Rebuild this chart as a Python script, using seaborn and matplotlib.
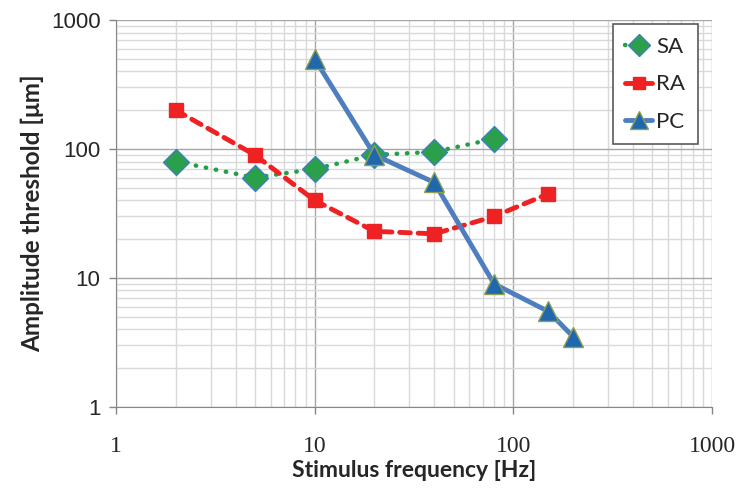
import pandas as pd
import numpy as np
import seaborn as sns
import matplotlib.pyplot as plt
from matplotlib.ticker import LogLocator, NullFormatter, FixedLocator

# Data
sa_freq = [2, 5, 10, 20, 40, 80]
sa_amp = [80, 60, 70, 90, 95, 120]
ra_freq = [2, 5, 10, 20, 40, 80, 150]
ra_amp = [200, 90, 40, 23, 22, 30, 45]
pc_freq = [10, 20, 40, 80, 150, 200]
pc_amp = [500, 90, 55, 9, 5.5, 3.5]

df = pd.concat([
    pd.DataFrame({'freq': sa_freq, 'amp': sa_amp, 'type': 'SA'}),
    pd.DataFrame({'freq': ra_freq, 'amp': ra_amp, 'type': 'RA'}),
    pd.DataFrame({'freq': pc_freq, 'amp': pc_amp, 'type': 'PC'}),
])

sns.set_style('white')
plt.rcParams['font.family'] = ['Lato', 'DejaVu Sans']

fig = plt.figure(figsize=(7.38, 4.88), dpi=100)
ax = fig.add_axes([0.157, 0.166, 0.808, 0.793])

styles = {
    'SA': dict(color='#22A045', ls=(0, (0.1, 2.2)), lw=3.2, marker='D', ms=13,
               mfc='#2AA04A', mec='#3F7FBF', mew=1.0),
    'RA': dict(color='#EE2222', ls=(0, (2.2, 1.6)), lw=3.5, marker='s', ms=10,
               mfc='#EE2222', mec='#EE2222', mew=1.0),
    'PC': dict(color='#4F7EBE', ls='-', lw=3.5, marker='^', ms=15,
               mfc='#1F68B0', mec='#8CA050', mew=1.0),
}

for name in ['SA', 'RA', 'PC']:
    st = styles[name]
    sub = df[df['type'] == name]
    sns.lineplot(data=sub, x='freq', y='amp', ax=ax, label=name,
                 color=st['color'], linestyle=st['ls'], linewidth=st['lw'],
                 marker=st['marker'], markersize=st['ms'],
                 markerfacecolor=st['mfc'], markeredgecolor=st['mec'],
                 markeredgewidth=st['mew'], dash_capstyle='round',
                 solid_capstyle='round')

ax.set_xscale('log')
ax.set_yscale('log')
ax.set_xlim(1, 1000)
ax.set_ylim(1, 1000)

ax.xaxis.set_major_locator(FixedLocator([1, 10, 100, 1000]))
ax.yaxis.set_major_locator(FixedLocator([1, 10, 100, 1000]))
ax.xaxis.set_minor_locator(LogLocator(base=10, subs=np.arange(2, 10)))
ax.yaxis.set_minor_locator(LogLocator(base=10, subs=np.arange(2, 10)))
ax.xaxis.set_minor_formatter(NullFormatter())
ax.yaxis.set_minor_formatter(NullFormatter())
ax.set_xticklabels(['1', '10', '100', '1000'], family='Liberation Serif', fontsize=17)
ax.set_yticklabels(['1', '10', '100', '1000'], family='Liberation Sans', fontsize=16)

ax.grid(which='major', color='#A6A6A6', lw=1.0)
ax.grid(which='minor', color='#D9D9D9', lw=1.0)
ax.set_axisbelow(True)
ax.tick_params(which='major', direction='out', length=5, color='#868686', width=1,
               bottom=True, left=True)
ax.tick_params(which='minor', length=0)
ax.tick_params(axis='x', pad=16)
ax.tick_params(axis='y', pad=6)

for side in ['top', 'right']:
    ax.spines[side].set_visible(False)
for side in ['left', 'bottom']:
    ax.spines[side].set_color('#868686')

ax.set_xlabel('Stimulus frequency [Hz]', fontsize=16.5, fontweight='bold', labelpad=2)
ax.set_ylabel('Amplitude threshold [μm]', fontsize=17.5, fontweight='bold', labelpad=5)

leg = ax.legend(loc='upper right', bbox_to_anchor=(0.983, 1.0), borderaxespad=0.2,
                fontsize=16, frameon=True, fancybox=False, edgecolor='#5A5A5A',
                framealpha=1, handlelength=1.2, labelspacing=0.8, borderpad=0.55,
                handletextpad=0.2, markerscale=0.85)
leg.get_frame().set_linewidth(1.2)

fig.savefig('out.png', dpi=100)
